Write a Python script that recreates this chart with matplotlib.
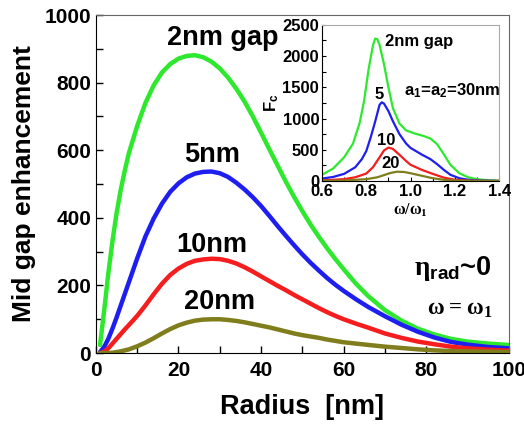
import matplotlib
matplotlib.use("Agg")
import matplotlib.pyplot as plt
from matplotlib.ticker import MultipleLocator

plt.rcParams["font.family"] = ["Liberation Sans", "DejaVu Sans"]
plt.rcParams["font.weight"] = "bold"
plt.rcParams["mathtext.fontset"] = "custom"
plt.rcParams["mathtext.rm"] = "Liberation Serif:bold"
plt.rcParams["mathtext.bf"] = "Liberation Sans:bold"
plt.rcParams["mathtext.sf"] = "Liberation Serif"

# main panel: mid-gap enhancement vs particle radius, one curve per gap
radius = [1, 2, 3, 4, 5, 6, 7, 8, 10, 12, 14, 16, 18, 20, 22, 24, 26, 28, 30,
          32, 34, 36, 38, 40, 42, 44, 46, 48, 50, 52, 54, 56, 58, 60, 63, 66,
          70, 74, 78, 82, 86, 90, 95, 100]
gap2 = [24, 125, 235, 330, 413, 482, 540, 592, 672, 740, 792, 830, 855, 871,
        879, 881, 875, 862, 842, 815, 782, 744, 700, 652, 603, 555, 507, 462,
        420, 380, 344, 310, 278, 248, 205, 168, 127, 96, 72, 55, 42, 34, 28, 24]
gap5 = [3, 18, 42, 72, 105, 140, 175, 210, 280, 345, 398, 442, 477, 502,
        520, 531, 536, 537, 532, 521, 504, 484, 461, 435, 406, 376, 347, 319,
        292, 267, 244, 222, 202, 184, 159, 136, 109, 84, 63, 46, 33, 25, 18, 14]
gap10 = [0, 4, 14, 28, 42, 56, 70, 83, 110, 141, 174, 205, 231, 250, 264,
         273, 277, 279, 278, 273, 265, 254, 241, 227, 213, 199, 186, 172,
         159, 146, 133, 121, 110, 100, 87, 75, 58, 45, 34, 26, 19, 14, 10, 7]
gap20 = [0, 0, 0, 1, 3, 5, 8, 11, 20, 31, 44, 58, 71, 82, 90, 96, 99, 100,
         100, 98, 95, 91, 86, 81, 76, 70, 64, 58, 53, 49, 45, 40, 36, 32, 28,
         24, 19, 15, 11, 8, 6, 5, 4, 3]

# inset: F_c spectra for a1 = a2 = 30 nm
w_2 = [0.60, 0.65, 0.70, 0.74, 0.77, 0.79, 0.81, 0.83, 0.84, 0.85, 0.86,
       0.88, 0.90, 0.92, 0.95, 0.98, 1.02, 1.06, 1.09, 1.12, 1.15, 1.18,
       1.22, 1.26, 1.30, 1.35, 1.40]
fc_2 = [100, 200, 380, 600, 930, 1280, 1780, 2170, 2280, 2270, 2180, 1870,
        1500, 1170, 920, 810, 760, 720, 680, 590, 430, 260, 125, 60, 30, 12, 5]
w_5 = [0.60, 0.65, 0.70, 0.75, 0.78, 0.80, 0.82, 0.84, 0.86, 0.87, 0.88,
       0.90, 0.92, 0.95, 0.98, 1.00, 1.05, 1.09, 1.12, 1.15, 1.18, 1.22,
       1.26, 1.30, 1.40]
fc_5 = [40, 65, 115, 220, 350, 480, 700, 950, 1220, 1260, 1240, 1120, 960,
        750, 600, 530, 425, 350, 270, 180, 100, 45, 20, 8, 2]
w_10 = [0.60, 0.70, 0.75, 0.80, 0.83, 0.86, 0.88, 0.90, 0.92, 0.95, 0.98,
        1.00, 1.05, 1.10, 1.15, 1.20, 1.25, 1.30, 1.40]
fc_10 = [10, 30, 60, 120, 220, 380, 490, 535, 515, 420, 320, 260, 180, 115,
         55, 20, 8, 3, 0]
w_20 = [0.60, 0.70, 0.80, 0.85, 0.88, 0.91, 0.94, 0.97, 1.00, 1.05, 1.10,
        1.15, 1.20, 1.30, 1.40]
fc_20 = [2, 8, 30, 60, 95, 130, 150, 145, 125, 85, 45, 20, 8, 1, 0]

GREEN = "#2ee82e"
BLUE = "#1e1ef0"
RED = "#f51d1d"
OLIVE = "#7f7d1c"

fig = plt.figure(figsize=(5.24, 4.29), dpi=100)
ax = fig.add_axes([0.183, 0.177, 0.788, 0.788])
for y, c in ((gap2, GREEN), (gap5, BLUE), (gap10, RED), (gap20, OLIVE)):
    ax.plot(radius, y, color=c, lw=3.2, solid_capstyle="round")
ax.set_xlim(0, 100)
ax.set_ylim(0, 1000)
ax.xaxis.set_major_locator(MultipleLocator(20))
ax.xaxis.set_minor_locator(MultipleLocator(10))
ax.yaxis.set_major_locator(MultipleLocator(200))
ax.yaxis.set_minor_locator(MultipleLocator(100))
ax.tick_params(which="both", direction="in", labelsize=15, width=1, length=5)
ax.tick_params(axis="x", pad=6)
for sp in ("top", "right"):
    ax.spines[sp].set_color("#666666")
ax.set_xlabel("Radius  [nm]", fontsize=19.5, fontweight="bold", labelpad=10)
ax.set_ylabel("Mid gap enhancement", fontsize=19, fontweight="bold", labelpad=6)

ax.text(30.7, 932, "2nm gap", fontsize=19.5, ha="center", va="center")
ax.text(28.1, 586, "5nm", fontsize=19.5, ha="center", va="center")
ax.text(28.1, 320, "10nm", fontsize=19.5, ha="center", va="center")
ax.text(30, 151, "20nm", fontsize=19.5, ha="center", va="center")
ax.text(86.5, 250, r"$\mathrm{\eta}_{\mathbf{rad}}$~0", fontsize=19.5,
        ha="center", va="center")
ax.text(88, 133, r"$\mathrm{\omega = \omega_1}$", fontsize=16.5,
        ha="center", va="center")

ins = fig.add_axes([0.6145, 0.578, 0.338, 0.364])
for x, y, c in ((w_2, fc_2, GREEN), (w_5, fc_5, BLUE),
                (w_10, fc_10, RED), (w_20, fc_20, OLIVE)):
    ins.plot(x, y, color=c, lw=1.6)
ins.set_xlim(0.6, 1.4)
ins.set_ylim(0, 2500)
ins.xaxis.set_major_locator(MultipleLocator(0.2))
ins.xaxis.set_minor_locator(MultipleLocator(0.1))
ins.yaxis.set_major_locator(MultipleLocator(500))
ins.yaxis.set_minor_locator(MultipleLocator(250))
ins.tick_params(which="both", direction="in", labelsize=12, length=3,
                width=0.8, pad=2)
for sp in ("top", "right"):
    ins.spines[sp].set_color("#aaaaaa")
ins.set_xlabel(r"$\mathsf{\omega/\omega_1}$", fontsize=11.5, labelpad=2)
ins.set_ylabel(r"$\mathbf{F_c}$", fontsize=12, labelpad=1)
ins.text(1.04, 2240, "2nm gap", fontsize=12, ha="center", va="center")
ins.text(1.19, 1440, r"$\mathbf{a_1}$=$\mathbf{a_2}$=30nm", fontsize=12,
         ha="center", va="center")
ins.text(0.86, 1380, "5", fontsize=12, ha="center", va="center")
ins.text(0.89, 650, "10", fontsize=12, ha="center", va="center")
ins.text(0.91, 280, "20", fontsize=12, ha="center", va="center")

fig.savefig("out.png", facecolor="white")
